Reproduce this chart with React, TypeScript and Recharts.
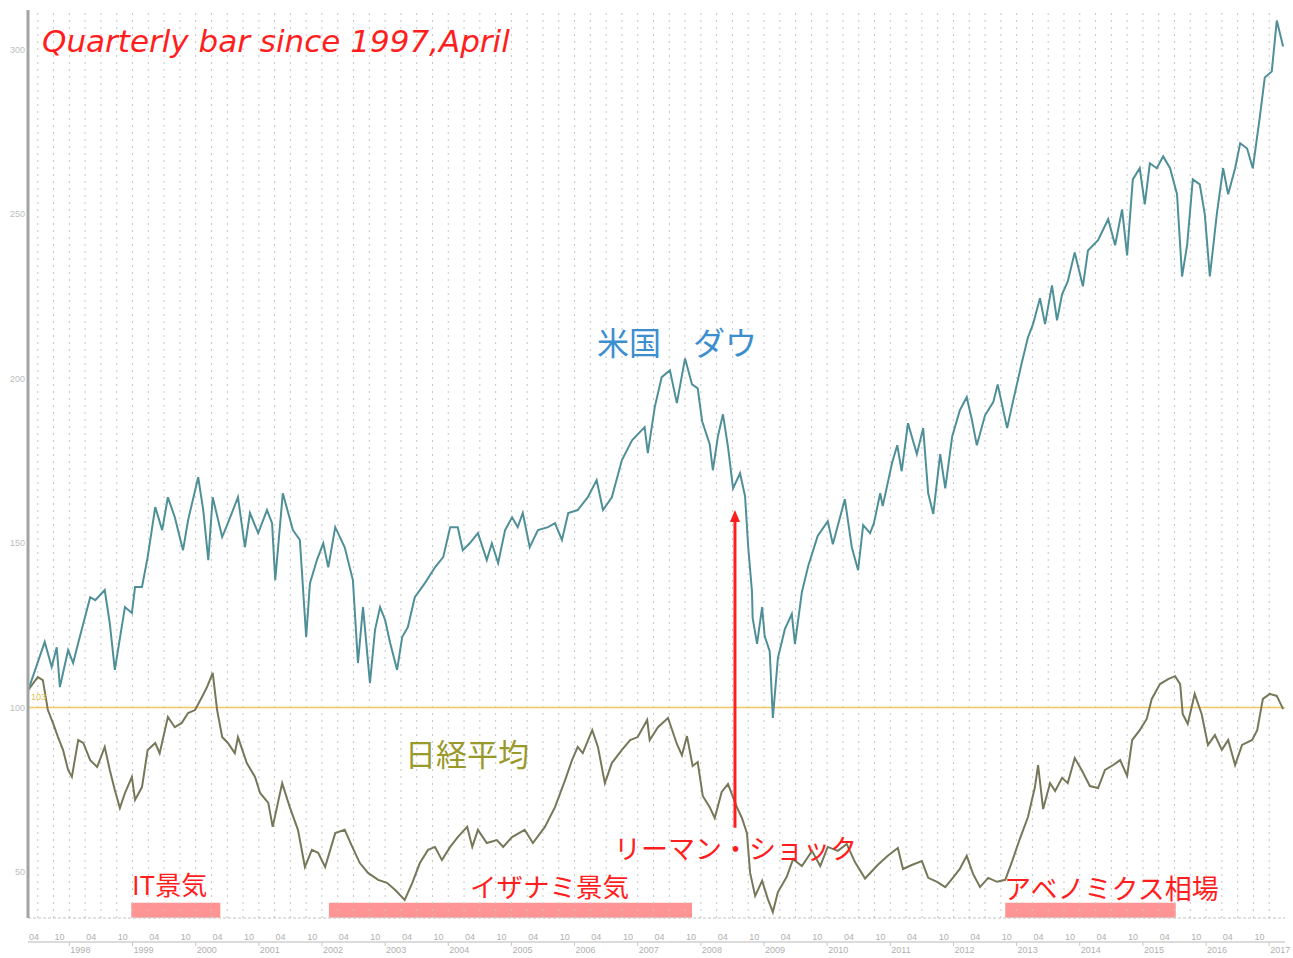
import React from "react";
import { LineChart, Line, XAxis, YAxis, ReferenceLine, ReferenceArea, ReferenceDot } from "recharts";

// index values (start = 100), [decimal year, value]
const dowPoints: [number, number][] = [
  [1997.35, 105.3], [1997.61, 119.9], [1997.72, 112.3], [1997.8, 118.3], [1997.85, 106.2], [1997.98, 117.4],
  [1998.06, 113.5], [1998.14, 119.6], [1998.33, 133.5], [1998.41, 132.6], [1998.56, 135.7], [1998.64, 125.6],
  [1998.72, 111.4], [1998.77, 117.4], [1998.88, 130.5], [1998.99, 128.7], [1999.04, 136.6], [1999.15, 136.6],
  [1999.24, 145.7], [1999.36, 160.9], [1999.47, 153.9], [1999.56, 163.9], [1999.67, 157.8], [1999.8, 147.8],
  [1999.88, 156.9], [2000.04, 170.0], [2000.12, 160.0], [2000.2, 144.8], [2000.27, 163.9], [2000.42, 151.8],
  [2000.51, 156.0], [2000.67, 163.9], [2000.78, 148.7], [2000.86, 159.1], [2000.99, 153.0], [2001.13, 160.0],
  [2001.21, 156.0], [2001.26, 138.7], [2001.38, 165.1], [2001.54, 153.9], [2001.65, 150.9], [2001.75, 121.4],
  [2001.81, 137.8], [2001.92, 144.8], [2002.02, 149.9], [2002.1, 142.6], [2002.21, 154.8], [2002.36, 148.7],
  [2002.49, 138.7], [2002.57, 113.5], [2002.65, 130.5], [2002.76, 107.4], [2002.84, 123.5], [2002.92, 130.5],
  [2003.0, 126.6], [2003.08, 119.6], [2003.19, 111.4], [2003.27, 121.4], [2003.36, 124.4], [2003.47, 133.5],
  [2003.63, 137.8], [2003.79, 142.6], [2003.92, 145.7], [2004.03, 154.8], [2004.15, 154.8], [2004.23, 147.8],
  [2004.34, 149.9], [2004.47, 153.0], [2004.61, 144.8], [2004.69, 149.9], [2004.79, 143.9], [2004.9, 153.9],
  [2005.01, 157.8], [2005.1, 154.8], [2005.18, 159.1], [2005.29, 148.7], [2005.42, 153.9], [2005.58, 154.8],
  [2005.69, 156.0], [2005.8, 150.9], [2005.9, 159.1], [2006.05, 160.0], [2006.21, 163.9], [2006.35, 169.1],
  [2006.45, 160.0], [2006.59, 163.9], [2006.75, 175.2], [2006.91, 181.2], [2007.11, 185.2], [2007.16, 177.3],
  [2007.27, 191.3], [2007.38, 200.4], [2007.51, 202.5], [2007.62, 192.5], [2007.75, 206.1], [2007.86, 198.2],
  [2007.95, 197.0], [2008.02, 187.0], [2008.14, 180.0], [2008.19, 172.1], [2008.27, 182.4], [2008.35, 189.1],
  [2008.43, 179.1], [2008.51, 166.6], [2008.62, 171.2], [2008.7, 164.2], [2008.75, 148.7], [2008.81, 135.1],
  [2008.82, 127.2], [2008.89, 119.3], [2008.97, 130.5], [2009.01, 121.7], [2009.09, 117.1], [2009.14, 96.8],
  [2009.22, 115.0], [2009.33, 123.8], [2009.44, 128.4], [2009.49, 119.3], [2009.6, 135.1], [2009.7, 143.0],
  [2009.85, 152.1], [2010.01, 156.6], [2010.09, 149.6], [2010.28, 163.3], [2010.39, 148.7], [2010.49, 141.7],
  [2010.57, 155.4], [2010.68, 153.0], [2010.74, 156.0], [2010.84, 165.1], [2010.88, 161.2], [2011.03, 174.5],
  [2011.11, 179.7], [2011.18, 171.8], [2011.28, 186.4], [2011.42, 177.0], [2011.52, 184.9], [2011.6, 165.1],
  [2011.68, 158.8], [2011.79, 177.0], [2011.87, 166.6], [2011.98, 182.4], [2012.1, 190.3], [2012.21, 194.3],
  [2012.29, 187.6], [2012.37, 179.7], [2012.5, 188.8], [2012.63, 192.8], [2012.7, 198.2], [2012.85, 184.9],
  [2012.94, 192.8], [2013.08, 204.6], [2013.18, 212.5], [2013.26, 216.5], [2013.37, 224.4], [2013.45, 216.5],
  [2013.56, 228.3], [2013.64, 217.7], [2013.72, 225.6], [2013.81, 229.5], [2013.92, 238.3], [2014.05, 228.0],
  [2014.13, 238.9], [2014.29, 242.0], [2014.45, 248.4], [2014.56, 240.5], [2014.67, 251.4], [2014.75, 237.4],
  [2014.84, 260.5], [2014.95, 263.9], [2015.03, 252.9], [2015.11, 265.4], [2015.22, 263.9], [2015.32, 267.5],
  [2015.43, 263.9], [2015.54, 256.0], [2015.62, 231.0], [2015.7, 240.5], [2015.79, 260.5], [2015.9, 259.0],
  [2015.98, 249.9], [2016.06, 231.0], [2016.17, 249.9], [2016.27, 263.9], [2016.35, 256.0], [2016.46, 263.9],
  [2016.54, 271.5], [2016.65, 269.9], [2016.74, 263.9], [2016.85, 279.3], [2016.93, 291.5], [2017.04, 293.3],
  [2017.12, 308.8], [2017.22, 300.9],
];

const nikkeiPoints: [number, number][] = [
  [1997.35, 105.3], [1997.5, 109.2], [1997.58, 108.3], [1997.66, 99.2], [1997.74, 95.3], [1997.82, 91.0],
  [1997.9, 87.1], [1997.98, 81.0], [1998.04, 78.9], [1998.14, 90.1], [1998.22, 89.2], [1998.33, 84.0],
  [1998.44, 81.9], [1998.56, 88.0], [1998.64, 81.0], [1998.72, 74.9], [1998.8, 69.4], [1998.88, 74.0],
  [1998.99, 78.9], [1999.04, 71.9], [1999.15, 75.8], [1999.24, 87.1], [1999.36, 89.2], [1999.43, 86.1],
  [1999.56, 97.1], [1999.67, 94.0], [1999.78, 95.3], [1999.88, 98.3], [1999.99, 99.2], [2000.1, 103.2],
  [2000.18, 106.2], [2000.27, 110.5], [2000.34, 99.2], [2000.42, 91.0], [2000.51, 89.2], [2000.62, 86.1],
  [2000.67, 91.0], [2000.81, 83.1], [2000.94, 78.9], [2001.02, 74.0], [2001.15, 71.0], [2001.22, 63.7],
  [2001.37, 77.0], [2001.49, 69.7], [2001.62, 62.8], [2001.73, 51.5], [2001.84, 56.7], [2001.94, 55.8],
  [2002.05, 51.5], [2002.21, 61.8], [2002.36, 62.8], [2002.48, 57.6], [2002.6, 52.7], [2002.73, 49.7],
  [2002.89, 47.6], [2003.03, 46.7], [2003.16, 44.5], [2003.31, 41.5], [2003.43, 46.7], [2003.55, 52.7],
  [2003.68, 56.7], [2003.79, 57.6], [2003.9, 53.6], [2004.03, 57.6], [2004.15, 60.6], [2004.3, 63.7],
  [2004.38, 57.6], [2004.47, 62.8], [2004.61, 58.8], [2004.77, 59.7], [2004.87, 57.6], [2005.01, 60.6],
  [2005.21, 62.8], [2005.34, 58.8], [2005.53, 63.7], [2005.69, 69.7], [2005.85, 77.9], [2005.96, 84.0],
  [2006.05, 88.0], [2006.13, 86.1], [2006.28, 93.1], [2006.37, 88.0], [2006.48, 77.0], [2006.59, 83.1],
  [2006.75, 87.1], [2006.88, 90.1], [2007.0, 91.0], [2007.15, 96.2], [2007.19, 90.1], [2007.32, 94.0],
  [2007.48, 96.8], [2007.62, 88.9], [2007.7, 85.5], [2007.78, 91.3], [2007.87, 82.2], [2007.95, 83.4],
  [2008.03, 73.1], [2008.14, 69.7], [2008.22, 66.4], [2008.33, 74.3], [2008.43, 76.7], [2008.57, 69.7],
  [2008.65, 66.4], [2008.73, 61.8], [2008.78, 49.7], [2008.86, 42.7], [2008.97, 47.3], [2009.06, 41.8],
  [2009.14, 37.8], [2009.22, 43.9], [2009.36, 48.5], [2009.46, 53.9], [2009.6, 51.8], [2009.76, 56.4],
  [2009.89, 51.8], [2010.01, 57.6], [2010.17, 56.4], [2010.31, 58.5], [2010.44, 53.0], [2010.6, 48.0],
  [2010.8, 52.1], [2010.96, 54.9], [2011.12, 57.3], [2011.2, 50.9], [2011.34, 52.1], [2011.5, 53.3],
  [2011.6, 48.2], [2011.74, 47.0], [2011.87, 45.4], [2011.99, 48.2], [2012.1, 50.9], [2012.21, 54.9],
  [2012.31, 49.4], [2012.42, 45.4], [2012.55, 48.2], [2012.69, 47.0], [2012.82, 47.6], [2012.93, 53.3],
  [2013.05, 60.0], [2013.18, 66.7], [2013.29, 75.8], [2013.34, 82.5], [2013.42, 69.1], [2013.53, 77.0],
  [2013.61, 74.6], [2013.72, 78.6], [2013.81, 77.0], [2013.92, 84.6], [2014.03, 81.0], [2014.16, 76.1],
  [2014.29, 75.5], [2014.4, 81.0], [2014.53, 82.5], [2014.64, 84.0], [2014.75, 79.2], [2014.83, 90.1],
  [2014.95, 93.1], [2015.06, 96.5], [2015.14, 102.6], [2015.27, 107.1], [2015.4, 108.6], [2015.51, 109.5],
  [2015.59, 107.1], [2015.63, 98.0], [2015.71, 95.0], [2015.82, 104.1], [2015.93, 98.0], [2016.03, 88.6],
  [2016.14, 91.6], [2016.25, 87.1], [2016.35, 90.1], [2016.46, 82.5], [2016.57, 88.6], [2016.73, 90.1],
  [2016.81, 93.1], [2016.9, 102.6], [2017.01, 104.1], [2017.12, 103.5], [2017.22, 99.5],
];

const yTicks = [50, 100, 150, 200, 250, 300];
const yearTicks = [1998, 1999, 2000, 2001, 2002, 2003, 2004, 2005, 2006, 2007, 2008, 2009, 2010, 2011, 2012, 2013, 2014, 2015, 2016, 2017];
const startYear = 1997;
// booms: [from, to]
const booms: [number, number][] = [
  [1998.98, 2000.39],
  [2002.11, 2007.86],
  [2012.82, 2015.52],
];
const lehman = { t: 2008.54, from: 63.4, to: 160 };

const xDomain = [1997.345, 2017.25];
const yDomain = [36, 312];

const halfYearTicks = [xDomain[0], ...[startYear, ...yearTicks].flatMap((y) => [y + 0.25, y + 0.75])].filter(
  (t) => t > 1997.3 && t < xDomain[1] - 0.1
);
const quarterLines = [startYear, ...yearTicks].flatMap((y) => [y, y + 0.25, y + 0.5, y + 0.75]).filter(
  (t) => t > xDomain[0] + 0.05 && t < xDomain[1]
);

const dowData = dowPoints.map(([t, v]) => ({ t, v }));
const nikkeiData = nikkeiPoints.map(([t, v]) => ({ t, v }));

const red = "#ff1e1e";
const jp = '"Noto Sans CJK JP", "Noto Sans", sans-serif';

function Note({ left, top, size, color, children, style }: any) {
  return (
    <div
      style={{
        position: "absolute",
        left,
        top,
        fontSize: size,
        color,
        lineHeight: 1,
        whiteSpace: "nowrap",
        fontFamily: jp,
        ...style,
      }}
    >
      {children}
    </div>
  );
}

const MonthTick = ({ x, y, payload }: any) => (
  <text x={x + 6} y={y + 20} textAnchor="middle" fontSize={9} fill="#b0b0b0" fontFamily="Liberation Sans, sans-serif">
    {payload.value - Math.floor(payload.value) < 0.5 ? "04" : "10"}
  </text>
);

const YearTick = ({ x, y, payload }: any) => (
  <text x={x + 1} y={y + 5} textAnchor="start" fontSize={9} fill="#b0b0b0" fontFamily="Liberation Sans, sans-serif">
    {payload.value}
  </text>
);

const ArrowHead = ({ cx, cy }: any) => (
  <polygon points={`${cx},${cy} ${cx - 5},${cy + 12} ${cx + 5},${cy + 12}`} fill={red} />
);

export default function App() {
  return (
    <div style={{ position: "absolute", left: 0, top: 0, width: 1293, height: 958, background: "#fff" }}>
      <LineChart width={1293} height={958} margin={{ top: 10, right: 8, bottom: 0, left: 0 }}>
        <XAxis
          type="number"
          dataKey="t"
          domain={xDomain}
          allowDataOverflow
          ticks={halfYearTicks}
          interval={0}
          height={24}
          tickSize={0}
          tickLine={false}
          axisLine={{ stroke: "#c4c4c4", strokeDasharray: "3 2" }}
          tick={<MonthTick />}
        />
        <XAxis
          xAxisId="yr"
          type="number"
          dataKey="t"
          domain={xDomain}
          allowDataOverflow
          ticks={yearTicks}
          interval={0}
          height={16}
          tickSize={4}
          tickLine={{ stroke: "#c8c8c8" }}
          axisLine={{ stroke: "#cfcfcf", strokeWidth: 1.5 }}
          tick={<YearTick />}
        />
        <YAxis
          type="number"
          domain={yDomain}
          allowDataOverflow
          ticks={yTicks}
          width={28}
          tickLine={false}
          tickSize={0}
          tickMargin={3}
          axisLine={{ stroke: "#a3a3a3", strokeWidth: 3 }}
          tick={{ fontSize: 9, fill: "#bdbdbd", fontFamily: "Liberation Sans, sans-serif" }}
        />
        {booms.map(([a, b]) => (
          <ReferenceArea key={a} x1={a} x2={b} y1={36.1} y2={40.6} fill="#ff8e8e" fillOpacity={0.95} stroke="none" />
        ))}
        {quarterLines.map((t) => (
          <ReferenceLine key={t} x={t} stroke="#c6c6c6" strokeWidth={1} strokeDasharray="2 5" />
        ))}
        <ReferenceLine y={100} stroke="#f0c862" strokeWidth={1.5} />
        <Line
          data={nikkeiData}
          dataKey="v"
          type="linear"
          stroke="#77775a"
          strokeWidth={2}
          dot={false}
          isAnimationActive={false}
        />
        <Line
          data={dowData}
          dataKey="v"
          type="linear"
          stroke="#4f9098"
          strokeWidth={2}
          dot={false}
          isAnimationActive={false}
        />
        <ReferenceLine
          segment={[
            { x: lehman.t, y: lehman.from },
            { x: lehman.t, y: lehman.to - 3 },
          ]}
          stroke={red}
          strokeWidth={3}
        />
        <ReferenceDot x={lehman.t} y={lehman.to} r={0} shape={<ArrowHead />} />
      </LineChart>

      <Note left={42} top={26} size={31} color={red} style={{ fontFamily: '"DejaVu Sans", sans-serif', fontStyle: "italic" }}>
        Quarterly bar since 1997,April
      </Note>
      <Note left={597} top={325} size={32} color="#3b8fcf">
        米国　ダウ
      </Note>
      <Note left={405} top={737} size={31} color="#9a9a2c">
        日経平均
      </Note>
      <Note left={614} top={834} size={27} color={red}>
        リーマン・ショック
      </Note>
      <Note left={132} top={871} size={26} color={red}>
        IT景気
      </Note>
      <Note left={470} top={873} size={26.5} color={red}>
        イザナミ景気
      </Note>
      <Note left={1004} top={874} size={27} color={red}>
        アベノミクス相場
      </Note>
      <Note left={31} top={693} size={9} color="#e0bf55" style={{ fontFamily: "Liberation Sans, sans-serif" }}>
        103
      </Note>
    </div>
  );
}
